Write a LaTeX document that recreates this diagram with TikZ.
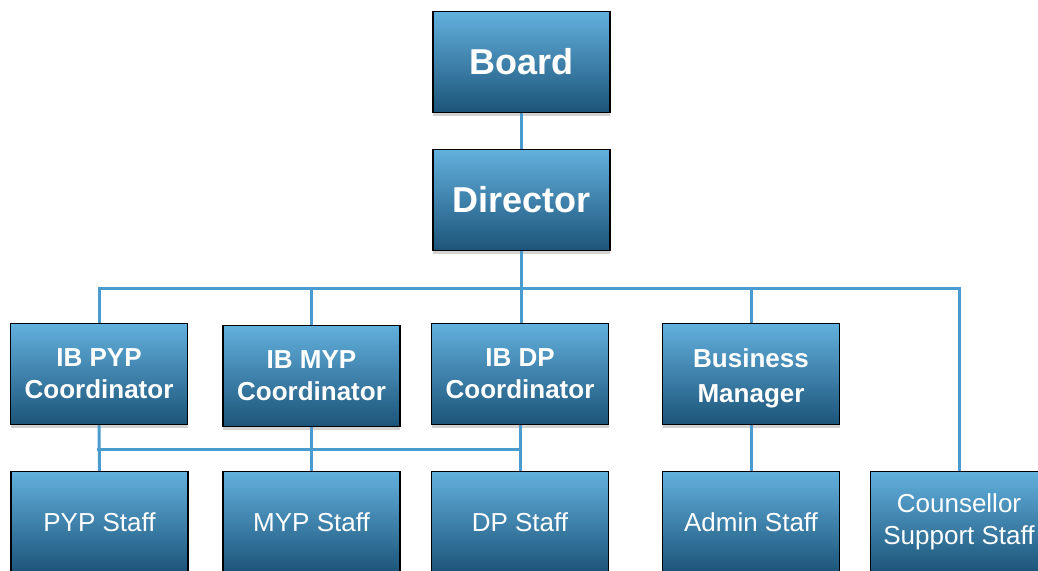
\documentclass[tikz,border=0pt]{standalone}
\usepackage{fontspec}
\setmainfont{Liberation Sans}
\usetikzlibrary{shadows,calc}
\definecolor{boxtop}{RGB}{98,176,222}
\definecolor{boxbot}{RGB}{28,84,120}
\definecolor{linkc}{RGB}{74,156,206}
\tikzset{
  orgbox/.style={draw=black, line width=1.4pt, top color=boxtop, bottom color=boxbot,
    minimum width=177pt, minimum height=101pt, inner sep=0pt, text=white, align=center,
    drop shadow={opacity=0.35, shadow xshift=0pt, shadow yshift=-3pt}},
  topbox/.style={orgbox, font=\fontsize{36}{40}\selectfont\bfseries},
  midbox/.style={orgbox, font=\fontsize{26}{32}\selectfont\bfseries},
  lowbox/.style={orgbox, font=\fontsize{26}{32}\selectfont},
  link/.style={draw=linkc, line width=3pt}
}
\begin{document}
\begin{tikzpicture}[x=1pt,y=-1pt]
\useasboundingbox (0,0) rectangle (1038,570);
\clip (0,0) rectangle (1038,570);
\fill[white] (0,0) rectangle (1038,570);
\coordinate (bus) at (0,288);
\coordinate (bus2) at (0,449);
% nodes
\node[topbox] (board) at (521.5,62) {Board};
\node[topbox] (dir) at (521.5,200) {Director};
\node[midbox] (pyp) at (99,374) {IB PYP\\Coordinator};
\node[midbox] (myp) at (311.5,376) {IB MYP\\Coordinator};
\node[midbox] (dp) at (520,374) {IB DP\\Coordinator};
\node[midbox] (bm) at (751,374) {\raisebox{-5pt}[\height][\depth]{\begin{tabular}{@{}c@{}}Business\\[3pt]Manager\end{tabular}}};
\node[lowbox] (pyps) at (99.5,522) {PYP Staff};
\node[lowbox] (myps) at (311.5,522) {MYP Staff};
\node[lowbox] (dps) at (520,522) {DP Staff};
\node[lowbox] (adm) at (751,522) {Admin Staff};
\node[lowbox] (cou) at (959,522) {Counsellor\\Support Staff};
% connectors
\draw[link] (board.south) -- (board.south |- dir.north);
\draw[link] (dir.south) -- (dir.south |- dp.north);
\draw[link] (pyp.north) |- (bus -| cou.north) -- (cou.north);
\draw[link] (myp.north) -- (myp.north |- bus);
\draw[link] (bm.north) -- (bm.north |- bus);
\draw[link] (pyp.south) -- (pyps.north);
\draw[link] (myp.south) -- (myps.north);
\draw[link] (dp.south) -- (dps.north);
\draw[link] ($(pyp.south |- bus2)+(-2,0)$) -- (dp.south |- bus2);
\draw[link] (bm.south) -- (adm.north);
\end{tikzpicture}
\end{document}
